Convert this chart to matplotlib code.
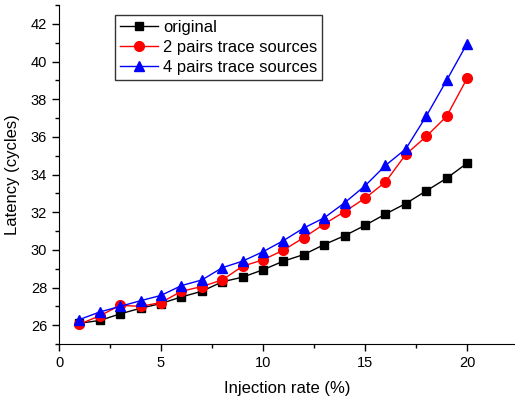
import numpy as np
from matplotlib import pyplot as plt
from matplotlib.ticker import MultipleLocator

plt.rcParams['font.family'] = ['Liberation Sans', 'DejaVu Sans']

rate = np.arange(1, 21)
original = [26.1, 26.25, 26.6, 26.9, 27.15, 27.5, 27.8, 28.3, 28.55, 28.94,
            29.4, 29.75, 30.28, 30.75, 31.3, 31.9, 32.46, 33.13, 33.8, 34.6]
pairs2 = [26.05, 26.5, 27.05, 27.0, 27.2, 27.8, 28.05, 28.4, 29.13, 29.47,
          29.98, 30.65, 31.37, 32.03, 32.74, 33.6, 35.07, 36.02, 37.09, 39.1]
pairs4 = [26.3, 26.7, 27.0, 27.3, 27.58, 28.1, 28.4, 29.05, 29.4, 29.9,
          30.49, 31.16, 31.7, 32.5, 33.4, 34.48, 35.36, 37.1, 39.0, 40.95]

fig = plt.figure(figsize=(5.15, 4.0), dpi=100)
ax = fig.add_axes([59/515, 56/400, 1 - 59/515, 339/400])

ax.plot(rate, original, color='black', lw=1, marker='s', ms=6, label='original')
ax.plot(rate, pairs2, color='red', lw=1, marker='o', ms=7, label='2 pairs trace sources')
ax.plot(rate, pairs4, color='blue', lw=1, marker='^', ms=7.5, label='4 pairs trace sources')

ax.set_xlim(0, 22.35)
ax.set_ylim(25, 43)
ax.xaxis.set_major_locator(MultipleLocator(5))
ax.xaxis.set_minor_locator(MultipleLocator(2.5))
ax.yaxis.set_major_locator(MultipleLocator(2))
ax.yaxis.set_minor_locator(MultipleLocator(1))
ax.spines['top'].set_visible(False)
ax.spines['right'].set_visible(False)
ax.tick_params(which='major', direction='out', length=5, width=1, labelsize=10.5)
ax.tick_params(which='minor', direction='out', length=3, width=1)

ax.set_xlabel('Injection rate (%)', fontsize=12, labelpad=8)
ax.set_ylabel('Latency (cycles)', fontsize=12, labelpad=8)

leg = ax.legend(loc='upper left', bbox_to_anchor=(115/515, 1 - 15/400),
                bbox_transform=fig.transFigure, borderaxespad=0, fancybox=False,
                edgecolor='black', fontsize=11.9, handlelength=2.3,
                borderpad=0.3, labelspacing=0.3, handletextpad=0.3)
leg.get_frame().set_linewidth(1)

fig.savefig('out.png', dpi=100)
